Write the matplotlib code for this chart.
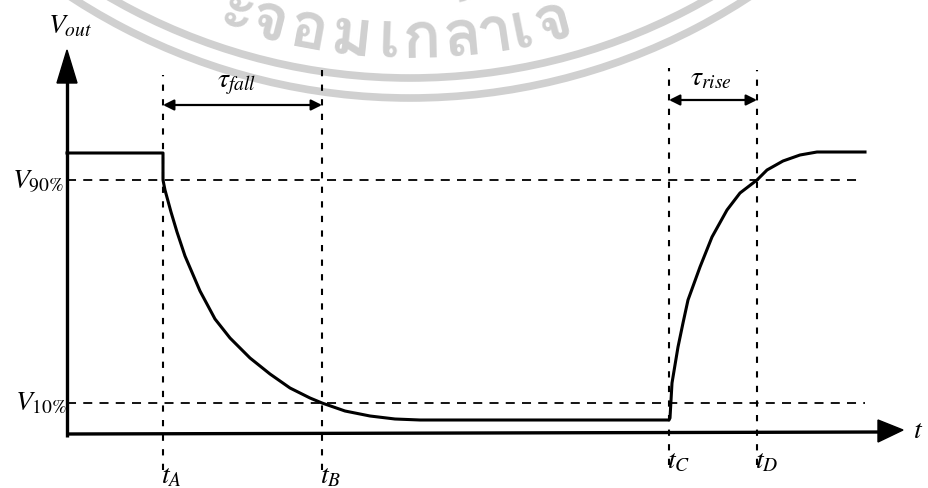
import numpy as np
import matplotlib
matplotlib.use("Agg")
import matplotlib.pyplot as plt
import matplotlib.font_manager as fm
from matplotlib.ft2font import FT2Font
from matplotlib.patches import Arc, Polygon

# ---------------- data (time units / voltage units) ----------------
t_marks = [0.96, 2.55, 6.02, 6.90]          # t_A, t_B, t_C, t_D
t_names = ["A", "B", "C", "D"]
V_high_left = 2.81
V_high_right = 2.82
V90 = 2.54
V10 = 0.31
V_low = 0.14

fall_t = [0.96, 0.98, 1.04, 1.10, 1.18, 1.33, 1.48, 1.63, 1.83, 2.03, 2.23,
          2.43, 2.55, 2.78, 3.03, 3.28, 3.53]
fall_v = [2.54, 2.44, 2.22, 2.02, 1.78, 1.43, 1.15, 0.96, 0.76, 0.60, 0.46,
          0.36, 0.31, 0.23, 0.18, 0.15, 0.14]
rise_t = [6.03, 6.05, 6.11, 6.16, 6.21, 6.33, 6.45, 6.60, 6.73, 6.90, 7.00,
          7.16, 7.33, 7.50, 7.98]
rise_v = [0.16, 0.51, 0.87, 1.11, 1.34, 1.67, 1.97, 2.24, 2.41, 2.54, 2.64,
          2.73, 2.79, 2.82, 2.82]

# watermark text clusters and their horizontal centres
wm_chars = ["ะ", "จ", "อ", "ม", "เ", "ก", "ล้", "า", "เ", "จ้"]
wm_x = [1.65, 1.98, 2.38, 2.83, 3.21, 3.55, 3.96, 4.30, 4.58, 4.91]

# ---------------- figure ----------------
plt.rcParams["mathtext.fontset"] = "stix"
fig = plt.figure(figsize=(9.29, 4.88), dpi=100)
ax = fig.add_axes([0, 0, 1, 1])
ax.set_xlim(-0.67, 8.62)
ax.set_ylim(-0.54, 4.34)
ax.axis("off")

# ---------------- watermark ----------------
wm_col = "#d0d0d0"
cx, cy = 3.43, 9.56
for r in (6.00, 6.20):
    ax.add_patch(Arc((cx, cy), 2 * r, 2 * r, theta1=215, theta2=325,
                     color=wm_col, lw=5.5, zorder=0))

thai_font = None
for f in fm.fontManager.ttflist:
    try:
        ft = FT2Font(f.fname)
        if ft.get_char_index(ord("จ")) and ft.get_char_index(ord("อ")):
            thai_font = f.name
            break
    except Exception:
        pass
if thai_font is not None:
    R = 5.80
    for ch, x in zip(wm_chars, wm_x):
        phi = np.arcsin((x - cx) / R)
        px = cx + R * np.sin(phi)
        py = cy - R * np.cos(phi)
        ax.text(px, py, ch, family=thai_font, fontsize=46, color=wm_col,
                fontweight="bold", ha="center", va="baseline",
                rotation=np.degrees(phi), rotation_mode="anchor", zorder=0)

# ---------------- axes (arrows) ----------------
k = "black"
ax.plot([0, 0], [-0.03, 3.55], color=k, lw=2.4, solid_capstyle="butt")
ax.add_patch(Polygon([[-0.10, 3.51], [0.10, 3.51], [0.0, 3.84]],
                     closed=True, color=k, zorder=3))
ax.plot([0, 8.15], [0, 0.02], color=k, lw=2.4, solid_capstyle="butt")
ax.add_patch(Polygon([[8.11, -0.08], [8.11, 0.14], [8.36, 0.04]],
                     closed=True, color=k, zorder=3))

# ---------------- dashed reference lines ----------------
ax.plot([0, 7.93], [V90, V90], color=k, lw=1.3, dashes=(5, 4))
ax.plot([0, 7.98], [V10, V10], color=k, lw=1.3, dashes=(5, 4))
v_top = [3.59, 3.64, 3.66, 3.64]
v_bot = [-0.36, -0.36, -0.31, -0.31]
for tm, top, bot in zip(t_marks, v_top, v_bot):
    ax.plot([tm, tm], [bot, top], color=k, lw=1.5, dashes=(3, 4))

# ---------------- signal ----------------
sig_t = [0, t_marks[0]] + fall_t + [t_marks[2]] + rise_t
sig_v = [V_high_left, V_high_left] + fall_v + [V_low] + rise_v
ax.plot(sig_t, sig_v, color=k, lw=2.2, solid_joinstyle="round")

# ---------------- tau arrows ----------------
ax.annotate("", xy=(t_marks[0], 3.29), xytext=(t_marks[1], 3.29),
            arrowprops=dict(arrowstyle="<|-|>", color=k, lw=1.6,
                            mutation_scale=16, shrinkA=0, shrinkB=0))
ax.annotate("", xy=(t_marks[2], 3.34), xytext=(t_marks[3], 3.34),
            arrowprops=dict(arrowstyle="<|-|>", color=k, lw=1.6,
                            mutation_scale=16, shrinkA=0, shrinkB=0))

# ---------------- labels ----------------
fs = 20
ax.text(-0.19, 4.01, r"$V_{out}$", fontsize=fs, ha="left", va="baseline")
ax.text(-0.55, 2.46, r"$V_{\mathrm{90\%}}$", fontsize=fs, ha="left", va="baseline")
ax.text(-0.52, 0.24, r"$V_{\mathrm{10\%}}$", fontsize=fs, ha="left", va="baseline")
ax.text(1.50, 3.47, r"$\tau_{fall}$", fontsize=fs, ha="left", va="baseline")
ax.text(6.23, 3.49, r"$\tau_{rise}$", fontsize=fs, ha="left", va="baseline")
tick_base = [-0.49, -0.49, -0.34, -0.34]
for tm, nm, b in zip(t_marks, t_names, tick_base):
    ax.text(tm - 0.02, b, r"$t_{%s}$" % nm, fontsize=fs, ha="left", va="baseline")
ax.text(8.46, -0.04, r"$t$", fontsize=fs, ha="left", va="baseline")

fig.savefig("out.png", dpi=100)
